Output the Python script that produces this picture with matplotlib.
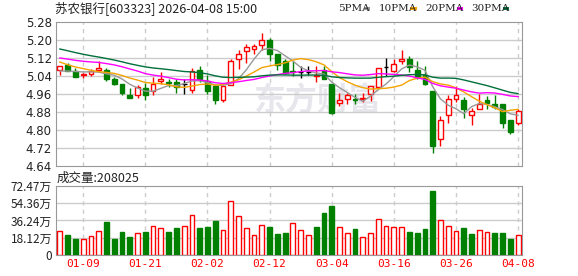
import matplotlib
matplotlib.use("Agg")
import matplotlib.pyplot as plt
import numpy as np
import pandas as pd

# daily candles, 603323
dates = ["01-06", "01-07", "01-08", "01-09", "01-12", "01-13", "01-14", "01-15", "01-16", "01-19",
         "01-20", "01-21", "01-22", "01-23", "01-26", "01-27", "01-28", "01-29", "01-30", "02-02",
         "02-03", "02-04", "02-05", "02-06", "02-09", "02-10", "02-11", "02-12", "02-13", "02-24",
         "02-25", "02-26", "02-27", "03-02", "03-03", "03-04", "03-05", "03-06", "03-09", "03-10",
         "03-11", "03-12", "03-13", "03-16", "03-17", "03-18", "03-19", "03-20", "03-23", "03-24",
         "03-25", "03-26", "03-27", "03-30", "03-31", "04-01", "04-02", "04-03", "04-07", "04-08"]

opens = [5.068, 5.087, 5.064, 5.043, 5.047, 5.068, 5.065, 5.028, 5.004, 4.957,
         4.957, 4.987, 4.975, 5.016, 5.012, 5.013, 5.003, 4.976, 5.065, 5.016,
         4.996, 4.932, 4.999, 5.117, 5.150, 5.159, 5.179, 5.199, 5.136, 5.107,
         5.064, 5.058, 5.059, 5.040, 5.065, 5.006, 4.919, 4.936, 4.936, 4.936,
         4.959, 4.990, 5.078, 5.061, 5.107, 5.114, 5.065, 5.043, 4.972, 4.761,
         4.865, 4.936, 4.932, 4.865, 4.895, 4.932, 4.917, 4.917, 4.846, 4.833]
highs = [5.084, 5.098, 5.076, 5.055, 5.073, 5.105, 5.076, 5.036, 5.004, 4.987,
         5.001, 5.009, 5.036, 5.058, 5.028, 5.025, 5.025, 5.076, 5.084, 5.043,
         5.006, 4.994, 5.114, 5.154, 5.184, 5.184, 5.233, 5.209, 5.136, 5.117,
         5.105, 5.084, 5.084, 5.084, 5.084, 5.006, 4.964, 4.966, 4.961, 4.966,
         4.994, 5.076, 5.120, 5.114, 5.154, 5.129, 5.105, 5.084, 4.972, 4.861,
         4.957, 4.996, 4.947, 4.898, 4.961, 4.951, 4.957, 4.917, 4.846, 4.892]
lows = [5.046, 5.064, 5.037, 5.031, 5.039, 5.058, 5.016, 4.999, 4.957, 4.944,
        4.942, 4.933, 4.957, 5.006, 4.991, 4.966, 4.959, 4.964, 5.013, 4.961,
        4.917, 4.924, 4.999, 5.070, 5.099, 5.139, 5.154, 5.105, 5.065, 5.050,
        5.040, 5.031, 5.043, 5.013, 5.025, 4.873, 4.905, 4.917, 4.917, 4.924,
        4.927, 4.990, 5.040, 5.058, 5.095, 5.058, 5.028, 4.999, 4.699, 4.729,
        4.833, 4.924, 4.855, 4.824, 4.892, 4.895, 4.892, 4.809, 4.784, 4.824]
closes = [5.084, 5.064, 5.037, 5.047, 5.061, 5.076, 5.028, 5.004, 4.964, 4.944,
          4.993, 4.957, 5.004, 5.027, 5.007, 4.991, 5.003, 5.064, 5.028, 4.973,
          4.932, 4.994, 5.105, 5.136, 5.169, 5.172, 5.199, 5.139, 5.087, 5.052,
          5.056, 5.058, 5.059, 5.043, 5.028, 4.877, 4.932, 4.954, 4.932, 4.942,
          4.994, 5.076, 5.078, 5.095, 5.114, 5.080, 5.036, 5.004, 4.729, 4.843,
          4.939, 4.957, 4.895, 4.884, 4.915, 4.918, 4.902, 4.833, 4.791, 4.883]
# volume in 万手
volumes = [25.2, 21.0, 16.8, 16.8, 19.6, 25.2, 35.0, 16.8, 24.5, 19.3,
           23.1, 24.5, 30.5, 28.4, 24.5, 28.4, 30.5, 42.0, 28.4, 29.4,
           35.7, 26.3, 56.4, 41.0, 28.4, 21.0, 31.5, 29.8, 22.4, 23.5,
           33.6, 26.3, 21.0, 29.4, 44.5, 51.8, 29.4, 23.1, 27.3, 18.9,
           23.1, 37.8, 30.5, 29.4, 29.4, 24.5, 23.5, 27.3, 67.6, 36.8,
           30.5, 25.2, 28.4, 22.4, 26.3, 24.2, 23.5, 23.5, 16.8, 20.8]
# closes before the window (estimated, only needed for the moving averages)
prior_closes = [5.30, 5.28, 5.27, 5.26, 5.25, 5.22, 5.21, 5.20, 5.20, 5.21,
                5.16, 5.15, 5.13, 5.12, 5.12, 5.13, 5.12, 5.13, 5.14, 5.18,
                5.184, 5.137, 5.117, 5.141, 5.131, 5.064, 5.047, 5.057, 5.058]

date_ticks = ["01-09", "01-21", "02-02", "02-12", "03-04", "03-16", "03-26", "04-08"]
price_ticks = [4.64, 4.72, 4.80, 4.88, 4.96, 5.04, 5.12, 5.20, 5.28]
vol_ticks = [0, 18.12, 36.24, 54.36, 72.47]
ma_periods = [5, 10, 20, 30]
ma_colors = ["#999999", "#f5a300", "#ff00ff", "#00703c"]

up_c = "#ff0000"
down_c = "#008000"
grid_c = "#cccccc"
frame_c = "#999999"
cjk = ["Noto Sans CJK SC", "DejaVu Sans"]

n = len(closes)
x = np.arange(n)
o = np.array(opens)
h = np.array(highs)
l = np.array(lows)
c = np.array(closes)

fig = plt.figure(figsize=(5.78, 2.76), dpi=100)
ax = fig.add_axes([0.0969, 0.3986, 0.8062, 0.5217])
axv = fig.add_axes([0.0969, 0.0761, 0.8062, 0.25])

for a in (ax, axv):
    a.set_xlim(-0.5, n - 0.5)
    for s in a.spines.values():
        s.set_color(frame_c)
    a.tick_params(length=0, labelsize=8.5, colors="#222222", pad=3)
    for d in date_ticks:
        a.axvline(dates.index(d), color=grid_c, lw=1, ls=(0, (3, 3)), zorder=0)

# watermark
ax.text(0.56, 0.45, "东方财富", transform=ax.transAxes, ha="center", va="center",
        fontsize=23, fontweight="bold", style="italic", color="#e6e6ec",
        family=cjk, zorder=0)

# price panel
ax.set_ylim(4.64, 5.28)
ax.set_yticks(price_ticks)
ax.set_yticklabels(["%.2f" % v for v in price_ticks])
ax.set_xticks([])
for v in price_ticks[1:-1]:
    ax.axhline(v, color=grid_c, lw=1, zorder=0)

w = 0.62
for i in range(n):
    if c[i] > o[i]:
        col = up_c
    elif c[i] < o[i]:
        col = down_c
    else:
        col = "#000000"
    ax.vlines(x[i], l[i], h[i], color=col, lw=1, zorder=2)
    if c[i] == o[i]:
        ax.hlines(c[i], x[i] - w / 2, x[i] + w / 2, color=col, lw=1, zorder=3)
    elif c[i] > o[i]:
        ax.bar(x[i], c[i] - o[i], bottom=o[i], width=w, facecolor="white",
               edgecolor=col, lw=1, zorder=3)
    else:
        ax.bar(x[i], o[i] - c[i], bottom=c[i], width=w, facecolor=col,
               edgecolor=col, lw=1, zorder=3)

full = pd.Series(prior_closes + closes)
for p, col in zip(ma_periods, ma_colors):
    ma = full.rolling(p).mean().values[-n:]
    ax.plot(x, ma, color=col, lw=1, zorder=4)

# title and legend
fig.text(0.095, 0.97, "苏农银行[603323] 2026-04-08 15:00", ha="left", va="center",
         fontsize=9, family=cjk, color="#222222")
lx = [0.585, 0.655, 0.735, 0.815]
for p, col, xx in zip(ma_periods, ma_colors, lx):
    fig.text(xx, 0.97, "%dPMA" % p, ha="left", va="center", fontsize=7.5,
             family="DejaVu Serif", color="#222222")
    fig.patches.append(plt.Rectangle((xx + 0.045 + (0.01 if p >= 10 else 0), 0.962),
                                     0.011, 0.014, transform=fig.transFigure,
                                     facecolor=col, edgecolor="none"))

# volume panel
prev = np.concatenate([[o[0]], c[:-1]])
vol_up = c >= prev
axv.set_ylim(0, 72.47)
axv.set_yticks(vol_ticks)
axv.set_yticklabels(["0"] + ["%.2f万" % v for v in vol_ticks[1:]], family=cjk)
for v in vol_ticks[1:-1]:
    axv.axhline(v, color=grid_c, lw=1, zorder=0)
vol = np.array(volumes)
axv.bar(x[vol_up], vol[vol_up], width=w, facecolor="white", edgecolor=up_c, lw=1, zorder=3)
axv.bar(x[~vol_up], vol[~vol_up], width=w, facecolor=down_c, edgecolor=down_c, lw=1, zorder=3)
axv.set_xticks([dates.index(d) for d in date_ticks])
axv.set_xticklabels(date_ticks, color=up_c, fontsize=8, family="DejaVu Sans Mono")
axv.tick_params(axis="x", colors=up_c, pad=3)
fig.text(0.098, 0.355, "成交量:208025", ha="left", va="center", fontsize=9,
         family=cjk, color="#222222")

fig.savefig("out.png", dpi=100)
